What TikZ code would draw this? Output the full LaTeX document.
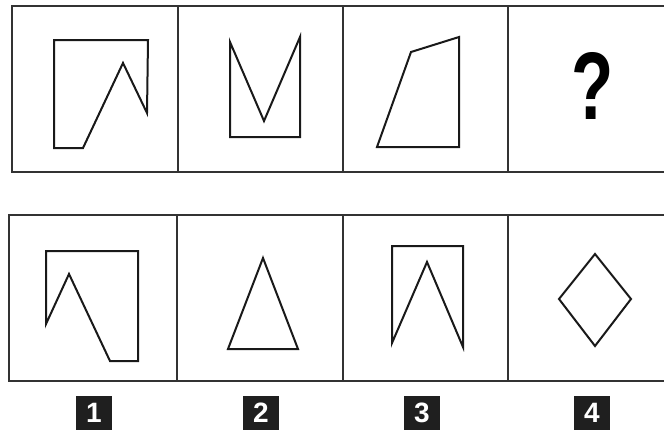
\documentclass[tikz,border=0pt]{standalone}
\usepackage{fontspec}
\setmainfont{Liberation Sans}
\begin{document}
\begin{tikzpicture}[x=0.75pt,y=-0.75pt,
  frame/.style={line width=1.9pt,draw=black!80},
  fig/.style={line width=1.5pt,draw=black!90,line join=miter},
  numbox/.style={fill=black!88,text=white,font=\bfseries\fontsize{21}{21}\selectfont,minimum width=27pt,minimum height=26pt,inner sep=0pt}]
\useasboundingbox (0,0) rectangle (664,432);
\begin{scope}
\clip (0,0) rectangle (664,432);
% top row frame
\draw[frame] (700,6) -- (12,6) -- (12,172) -- (700,172);
\draw[frame] (178,6) -- (178,172);
\draw[frame] (343,6) -- (343,172);
\draw[frame] (508,6) -- (508,172);
% bottom row frame
\draw[frame] (700,215) -- (9,215) -- (9,381) -- (700,381);
\draw[frame] (177,215) -- (177,381);
\draw[frame] (343,215) -- (343,381);
\draw[frame] (508,215) -- (508,381);
\end{scope}
% top row figures
\draw[fig] (54,40) -- (148,40) -- (147,113) -- (123,63) -- (83,148) -- (54,148) -- cycle;
\draw[fig] (230,42) -- (264,121) -- (300,37) -- (300,137) -- (230,137) -- cycle;
\draw[fig] (411,52) -- (459,37) -- (459,147) -- (377,147) -- cycle;
\node[font=\bfseries\fontsize{72}{72}\selectfont,xscale=0.72] (q) at (593,86) {?};
% bottom row figures
\draw[fig] (46,251) -- (138,251) -- (138,361) -- (110,361) -- (69,274) -- (46,324) -- cycle;
\draw[fig] (263,258) -- (298,349) -- (228,349) -- cycle;
\draw[fig] (392,246) -- (463,246) -- (463,347) -- (427,262) -- (392,343) -- cycle;
\draw[fig] (595,254) -- (631,299) -- (595,346) -- (559,299) -- cycle;
% labels
\node[numbox] (n1) at (94,413) {1};
\node[numbox] (n2) at (261,413) {2};
\node[numbox] (n3) at (422,413) {3};
\node[numbox] (n4) at (592,413) {4};
\end{tikzpicture}
\end{document}
